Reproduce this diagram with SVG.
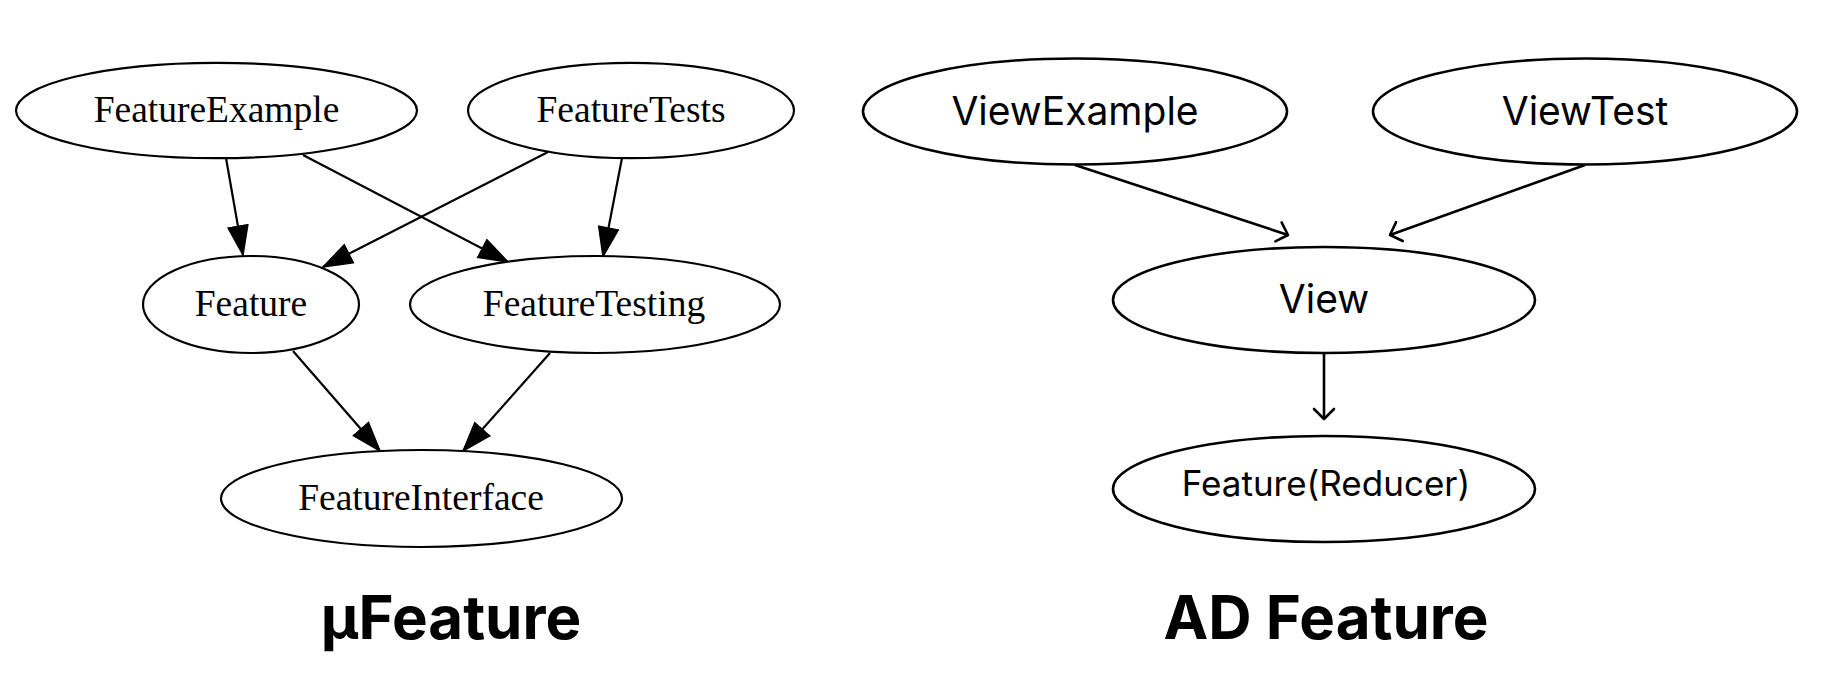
<svg xmlns="http://www.w3.org/2000/svg" width="1824" height="690" viewBox="0 0 1824 690">
  <style>
    .bg { fill: #ffffff; }
    .gv { fill: #ffffff; stroke: #000000; stroke-width: 2.2; }
    .ad { fill: #ffffff; stroke: #000000; stroke-width: 2.6; }
    .gvt { font-family: "Liberation Serif", "Times New Roman", serif; font-size: 37.5px; fill: #000; text-anchor: middle; }
    .adt { font-family: Inter, "Liberation Sans", sans-serif; font-size: 39px; fill: #000; text-anchor: middle; }
    .title { font-family: Inter, "Liberation Sans", sans-serif; font-weight: 700; font-size: 60px; fill: #000; text-anchor: middle; }
    .gve { fill: none; stroke: #000; stroke-width: 2.2; marker-end: url(#filled); }
    .ade { fill: none; stroke: #000; stroke-width: 2.6; marker-end: url(#open); }
  </style>
  <defs>
    <marker id="filled" markerUnits="userSpaceOnUse" markerWidth="32" markerHeight="24" viewBox="0 0 32 24" refX="30" refY="12" orient="auto">
      <path d="M1,2 L30,12 L1,22 z" fill="#000" stroke="#000" stroke-width="1.5"/>
    </marker>
    <marker id="open" markerUnits="userSpaceOnUse" markerWidth="20" markerHeight="28" viewBox="0 0 20 28" refX="16" refY="14" orient="auto">
      <path d="M6,4 L16,14 L6,24" fill="none" stroke="#000" stroke-width="2.6" stroke-linecap="round" stroke-linejoin="round"/>
    </marker>
  </defs>
  <rect class="bg" x="0" y="0" width="1824" height="690"/>

  <g id="connectors">
    <line class="gve" x1="226" y1="158" x2="243" y2="255"/>
    <line class="gve" x1="303" y1="155" x2="508" y2="262"/>
    <line class="gve" x1="548" y1="152" x2="323" y2="267"/>
    <line class="gve" x1="622" y1="158" x2="603" y2="256.5"/>
    <line class="gve" x1="293" y1="351" x2="380" y2="451"/>
    <line class="gve" x1="550" y1="353" x2="463" y2="451"/>
    <line class="ade" x1="1075" y1="165" x2="1288" y2="235"/>
    <line class="ade" x1="1585" y1="165" x2="1390" y2="235"/>
    <line class="ade" x1="1324" y1="353" x2="1324" y2="419"/>
  </g>

  <g id="FeatureExample">
    <ellipse class="gv" cx="216.5" cy="110.5" rx="200.5" ry="47.7"/>
    <text class="gvt" x="216.5" y="122">FeatureExample</text>
  </g>
  <g id="FeatureTests">
    <ellipse class="gv" cx="631" cy="110.5" rx="163" ry="47.7"/>
    <text class="gvt" x="631" y="122">FeatureTests</text>
  </g>
  <g id="Feature">
    <ellipse class="gv" cx="251" cy="304.5" rx="108" ry="48.5"/>
    <text class="gvt" x="251" y="316">Feature</text>
  </g>
  <g id="FeatureTesting">
    <ellipse class="gv" cx="595" cy="304.5" rx="185" ry="48.5"/>
    <text class="gvt" x="594" y="316">FeatureTesting</text>
  </g>
  <g id="FeatureInterface">
    <ellipse class="gv" cx="421.5" cy="498.5" rx="200.5" ry="48.5"/>
    <text class="gvt" x="421" y="510">FeatureInterface</text>
  </g>

  <g id="ViewExample">
    <ellipse class="ad" cx="1075" cy="111.5" rx="212" ry="53"/>
    <text class="adt" x="1075" y="125">ViewExample</text>
  </g>
  <g id="ViewTest">
    <ellipse class="ad" cx="1585" cy="111.5" rx="212" ry="53"/>
    <text class="adt" x="1585" y="125">ViewTest</text>
  </g>
  <g id="View">
    <ellipse class="ad" cx="1324" cy="300" rx="211" ry="53"/>
    <text class="adt" x="1324" y="313">View</text>
  </g>
  <g id="FeatureReducer">
    <ellipse class="ad" cx="1324" cy="489" rx="211" ry="53"/>
    <text class="adt" x="1326" y="496" style="font-size:35px">Feature(Reducer)</text>
  </g>

  <g id="titles">
    <text class="title" x="451" y="639">μFeature</text>
    <text class="title" x="1326" y="639">AD Feature</text>
  </g>
</svg>
